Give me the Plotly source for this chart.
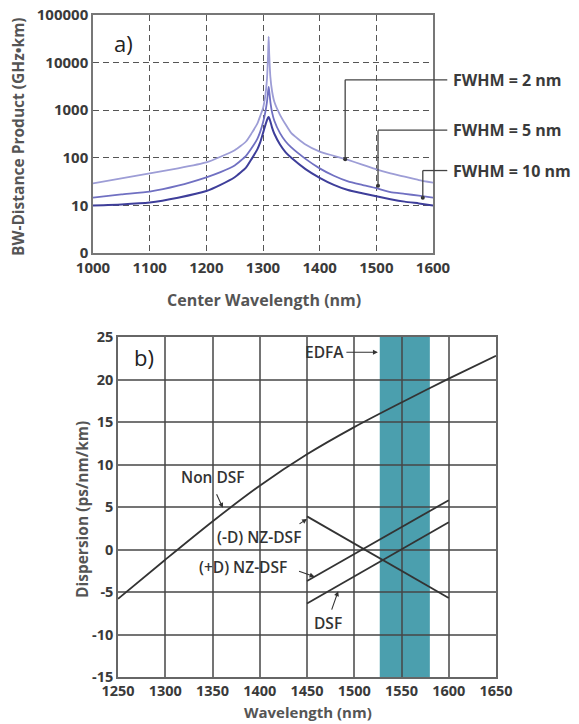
import math
import plotly.graph_objects as go

# ---------------- Data: panel a) ----------------
wl_a = [1000, 1050, 1100, 1150, 1200, 1225, 1250, 1270, 1280, 1290, 1295, 1300, 1304, 1307, 1309,
        1310, 1311, 1313, 1316, 1320, 1330, 1340, 1350, 1375, 1400, 1425, 1450, 1475, 1500, 1525,
        1550, 1575, 1600]
bw_2nm = [29, 37, 47, 60, 80, 105, 144, 220, 330, 520, 750, 1100, 2000, 4500, 15000,
          35000, 15000, 5000, 2500, 1500, 800, 500, 330, 190, 135, 110, 90, 72, 57, 47,
          40, 34, 30]
bw_5nm = [14.5, 17, 19.5, 26, 39, 50, 69, 110, 160, 250, 350, 550, 900, 1500, 2500,
          3100, 2500, 1500, 900, 600, 330, 220, 165, 95, 60, 42, 32, 27, 23, 19,
          17.5, 16, 14.5]
bw_10nm = [10, 10.5, 11.5, 14.5, 20, 27, 39, 62, 95, 150, 210, 330, 480, 620, 700,
           720, 680, 580, 430, 320, 190, 130, 100, 58, 38, 27, 21, 18, 15.5, 13.5,
           12, 11, 10]
a_xticks = [1000, 1100, 1200, 1300, 1400, 1500, 1600]
a_yticks = [1, 10, 100, 1000, 10000, 100000]
a_yticktext = ["0", "10", "100", "1000", "10000", "100000"]

# callouts: label, point wavelength, point value, label level value
callout_labels = ["FWHM = 2 nm", "FWHM = 5 nm", "FWHM = 10 nm"]
callout_wl = [1445, 1503, 1582]
callout_val = [93, 26, 14.5]
callout_level = [4350, 380, 54]

# ---------------- Data: panel b) ----------------
wl_nondsf = [1250, 1300, 1350, 1400, 1450, 1500, 1550, 1600, 1650]
d_nondsf = [-5.8, -1.2, 3.3, 7.5, 11.2, 14.4, 17.3, 20.1, 22.8]
wl_short = [1450, 1600]
d_minus_nzdsf = [3.9, -5.7]
d_plus_nzdsf = [-3.7, 5.8]
d_dsf = [-6.35, 3.2]
edfa_band = [1527, 1580]
b_xticks = [1250, 1300, 1350, 1400, 1450, 1500, 1550, 1600, 1650]
b_yticks = [-15, -10, -5, 0, 5, 10, 15, 20, 25]
b_yticktext = ["-15", "-10", "-5", "0", "5", "10", "15", "20", "25"]

FONT = "Open Sans"
TICKC = "#3a3a3a"
TITLEC = "#555555"

# page body has an 8px margin; figure is sized so the page fills the window
W, H = 571, 716
OFF = 8


def px(p):
    return (p - OFF) / W


def py(p):
    return 1 - (p - OFF) / H


fig = go.Figure()

# panel a curves
for ys, col, w in [(bw_2nm, "#9d9dd6", 1.8), (bw_5nm, "#7070c2", 1.8), (bw_10nm, "#3e3e9a", 2.0)]:
    fig.add_trace(go.Scatter(x=wl_a, y=ys, mode="lines",
                             line=dict(color=col, width=w, shape="spline", smoothing=0.5),
                             xaxis="x", yaxis="y", showlegend=False, hoverinfo="skip"))

# callout dots
fig.add_trace(go.Scatter(x=callout_wl, y=callout_val, mode="markers",
                         marker=dict(color="#333333", size=4), xaxis="x", yaxis="y",
                         showlegend=False, hoverinfo="skip", cliponaxis=False))

# panel b curves
fig.add_trace(go.Scatter(x=wl_nondsf, y=d_nondsf, mode="lines",
                         line=dict(color="#333333", width=1.8, shape="spline", smoothing=0.8),
                         xaxis="x2", yaxis="y2", showlegend=False, hoverinfo="skip"))
for ys in [d_minus_nzdsf, d_plus_nzdsf, d_dsf]:
    fig.add_trace(go.Scatter(x=wl_short, y=ys, mode="lines", line=dict(color="#333333", width=1.8),
                             xaxis="x2", yaxis="y2", showlegend=False, hoverinfo="skip"))

shapes = []
annotations = []


def xdom_a(w):
    return (w - 1000) / 600.0


def ydom_a(v):
    return math.log10(v) / 5.0


for lab, w, v, lvl in zip(callout_labels, callout_wl, callout_val, callout_level):
    shapes.append(dict(type="line", xref="x domain", yref="y domain",
                       x0=xdom_a(w), x1=xdom_a(w), y0=ydom_a(v), y1=ydom_a(lvl),
                       line=dict(color="#444444", width=1.3)))
    shapes.append(dict(type="line", xref="x domain", yref="y domain",
                       x0=xdom_a(w), x1=1.042, y0=ydom_a(lvl), y1=ydom_a(lvl),
                       line=dict(color="#444444", width=1.3)))
    annotations.append(dict(text=lab, xref="x domain", yref="y", x=1.053, y=math.log10(lvl),
                            xanchor="left", yanchor="middle", showarrow=False,
                            font=dict(family=FONT, size=16, color="#3a3a3a", weight="bold")))

# EDFA band
shapes.append(dict(type="rect", xref="x2", yref="y2 domain", x0=edfa_band[0], x1=edfa_band[1],
                   y0=0, y1=1, fillcolor="#4b9fae", line=dict(width=0), layer="below"))

C = dict(xanchor="center", yanchor="middle", showarrow=False)

# panel labels
annotations.append(dict(text="a)", xref="x", yref="y", x=1053, y=math.log10(26000),
                        font=dict(family=FONT, size=22, color="#222222"), **C))
annotations.append(dict(text="b)", xref="x2", yref="y2", x=1278, y=22.6,
                        font=dict(family=FONT, size=22, color="#222222"), **C))

# axis titles
annotations.append(dict(text="Center Wavelength (nm)", xref="paper", yref="paper", x=px(264), y=py(300),
                        font=dict(family=FONT, size=16, color=TITLEC, weight="bold"), **C))
annotations.append(dict(text="BW-Distance Product (GHz•km)", xref="paper", yref="paper", x=px(18), y=py(137),
                        textangle=-90, font=dict(family=FONT, size=15.5, color=TITLEC, weight="bold"), **C))
annotations.append(dict(text="Wavelength (nm)", xref="paper", yref="paper", x=px(308), y=py(712),
                        font=dict(family=FONT, size=15, color=TITLEC, weight="bold"), **C))
annotations.append(dict(text="Dispersion (ps/nm/km)", xref="paper", yref="paper", x=px(82), y=py(509),
                        textangle=-90, font=dict(family=FONT, size=15.5, color=TITLEC, weight="bold"), **C))

# panel b labels
lblfont = dict(family=FONT, size=15.5, color="#333333", weight=600)
for txt, x, y in [("Non DSF", 1350, 8.5), ("(-D) NZ-DSF", 1399, 1.45), ("(+D) NZ-DSF", 1382, -2.05),
                  ("DSF", 1472, -8.6), ("EDFA", 1469, 23.2)]:
    annotations.append(dict(text=txt, xref="x2", yref="y2", x=x, y=y, font=lblfont, **C))

# panel b arrows (tip in data coordinates, tail offset in px)
for x, y, ax, ay in [(1361, 4.9, -7, -15), (1450, 3.6, -9, 6), (1458, -3.2, -17, -6),
                     (1483, -4.9, -7, 20), (1525, 23.2, -33, 0)]:
    annotations.append(dict(text="", xref="x2", yref="y2", x=x, y=y, ax=ax, ay=ay, showarrow=True,
                            arrowhead=2, arrowsize=0.9, arrowwidth=1.1, arrowcolor="#333333", standoff=0))

tickfont = dict(family=FONT, size=15, color=TICKC, weight="bold")
tickfont_b = dict(family=FONT, size=14.5, color=TICKC, weight="bold")
common = dict(ticks="", ticklen=0, zeroline=False, automargin=False, ticklabeloverflow="allow",
              showline=True, mirror=True, linewidth=1.5)

fig.update_layout(
    template="none",
    width=W, height=H,
    margin=dict(l=0, r=0, t=0, b=0, pad=0, autoexpand=False),
    paper_bgcolor="white", plot_bgcolor="white",
    showlegend=False,
    shapes=shapes, annotations=annotations,
    xaxis=dict(domain=[px(93), px(433)], range=[1000, 1600], tickvals=a_xticks, tickfont=tickfont,
               showgrid=True, gridcolor="#555555", griddash="6px,4px", gridwidth=1.2,
               linecolor="#777777", anchor="y", **common),
    yaxis=dict(domain=[py(253), py(15)], type="log", range=[0, 5],
               tickvals=a_yticks, ticktext=a_yticktext, tickfont=tickfont,
               showgrid=True, gridcolor="#555555", griddash="6px,4px", gridwidth=1.2,
               linecolor="#777777", anchor="x", **common),
    xaxis2=dict(domain=[px(118), px(496)], range=[1250, 1650], tickvals=b_xticks, tickfont=tickfont_b,
                showgrid=True, gridcolor="rgba(70,70,70,0.75)", gridwidth=1.5,
                linecolor="#666666", anchor="y2", **common),
    yaxis2=dict(domain=[py(677), py(337)], range=[-15, 25], tickvals=b_yticks, ticktext=b_yticktext,
                tickfont=tickfont_b,
                showgrid=True, gridcolor="rgba(70,70,70,0.75)", gridwidth=1.5,
                linecolor="#666666", anchor="x2", **common),
)

fig.write_html("out.html")
